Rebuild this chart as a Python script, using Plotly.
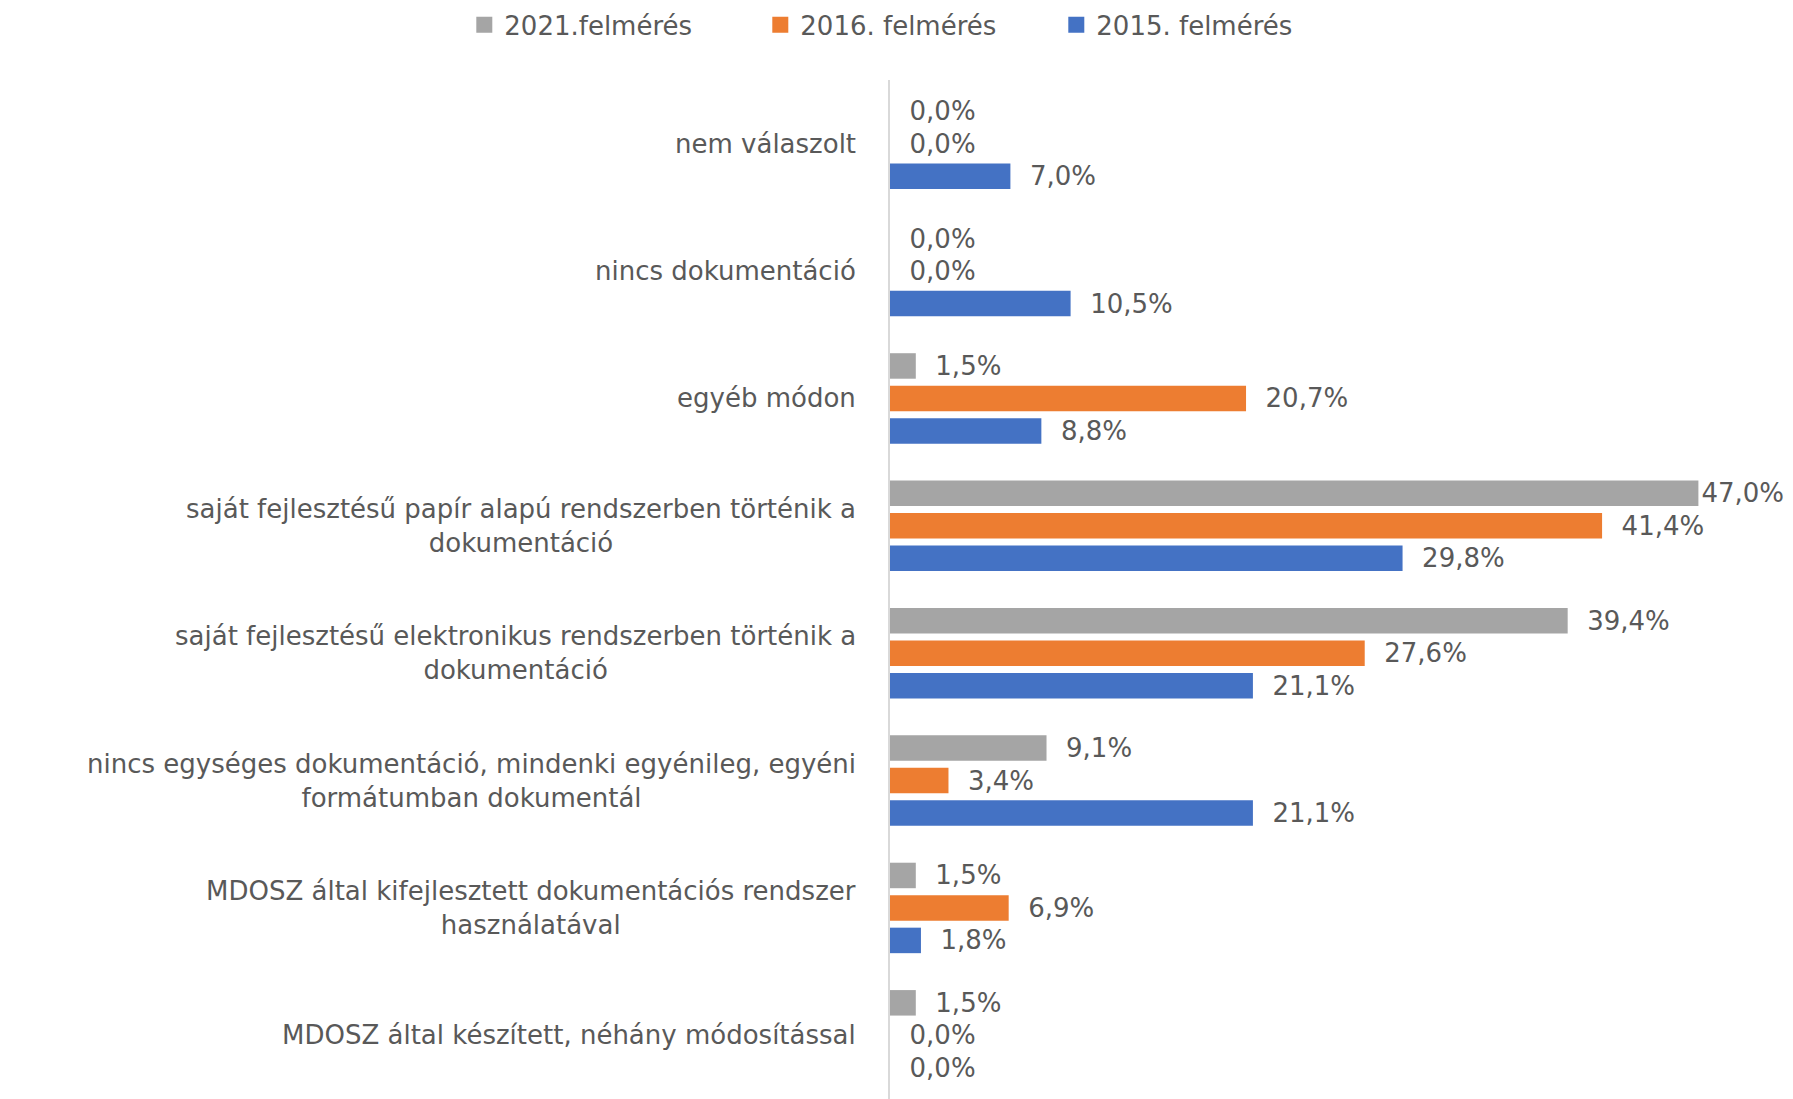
import plotly.graph_objects as go

categories = [
    "nem válaszolt",
    "nincs dokumentáció",
    "egyéb módon",
    "saját fejlesztésű papír alapú rendszerben történik a<br>dokumentáció",
    "saját fejlesztésű elektronikus rendszerben történik a<br>dokumentáció",
    "nincs egységes dokumentáció, mindenki egyénileg, egyéni<br>formátumban dokumentál",
    "MDOSZ által kifejlesztett dokumentációs rendszer<br>használatával",
    "MDOSZ által készített, néhány módosítással",
]
series_names = ["2021.felmérés", "2016. felmérés", "2015. felmérés"]
values_2021 = [0.0, 0.0, 1.5, 47.0, 39.4, 9.1, 1.5, 1.5]
values_2016 = [0.0, 0.0, 20.7, 41.4, 27.6, 3.4, 6.9, 0.0]
values_2015 = [7.0, 10.5, 8.8, 29.8, 21.1, 21.1, 1.8, 0.0]
colors = ["#A5A5A5", "#ED7D31", "#4472C4"]

TEXT_COLOR = "#595959"
FONT = "DejaVu Sans"
FS = 26

def fmt(v):
    s = f"{v:.1f}".replace(".", ",") + "%"
    return s if v > 45 else "\u00a0\u00a0" + s

fig = go.Figure()
for name, vals, col in zip(series_names, [values_2021, values_2016, values_2015], colors):
    fig.add_trace(go.Bar(
        y=list(range(len(categories))),
        x=vals,
        name=name,
        orientation="h",
        marker=dict(color=col, line=dict(width=0)),
        text=[fmt(v) for v in vals],
        textposition="outside",
        textfont=dict(family=FONT, size=FS, color=TEXT_COLOR),
        constraintext="none",
        cliponaxis=False,
        showlegend=False,
        legendgroup=name,
    ))

# legend entries with larger square symbols
for name, col in zip(series_names, colors):
    fig.add_trace(go.Scatter(
        x=[None], y=[None], mode="markers", name=name,
        marker=dict(symbol="square", size=16, color=col),
        legendgroup=name, showlegend=True, hoverinfo="skip",
    ))

for i, c in enumerate(categories):
    fig.add_annotation(
        x=0, y=i, xref="x", yref="y",
        text=c, showarrow=False,
        xanchor="right", yanchor="middle", align="center",
        xshift=-32,
        font=dict(family=FONT, size=FS, color=TEXT_COLOR),
    )

fig.update_layout(
    width=1785, height=1091,
    margin=dict(l=882, r=43, t=72, b=0, autoexpand=False),
    paper_bgcolor="white", plot_bgcolor="white",
    barmode="group", bargap=0.235, bargroupgap=0.215,
    showlegend=True,
    legend=dict(
        orientation="h", xref="paper", yref="paper",
        x=-0.495, xanchor="left", y=1.054, yanchor="middle",
        entrywidth=251, entrywidthmode="pixels",
        font=dict(family=FONT, size=FS, color=TEXT_COLOR),
    ),
    xaxis=dict(range=[0, 50], visible=False, showgrid=False, zeroline=False),
    yaxis=dict(
        range=[len(categories) - 0.5, -0.5],
        showticklabels=False, ticks="", showgrid=False, zeroline=False,
        showline=True, linecolor="#D9D9D9", linewidth=1.5,
    ),
)

fig.write_html("out.html")
